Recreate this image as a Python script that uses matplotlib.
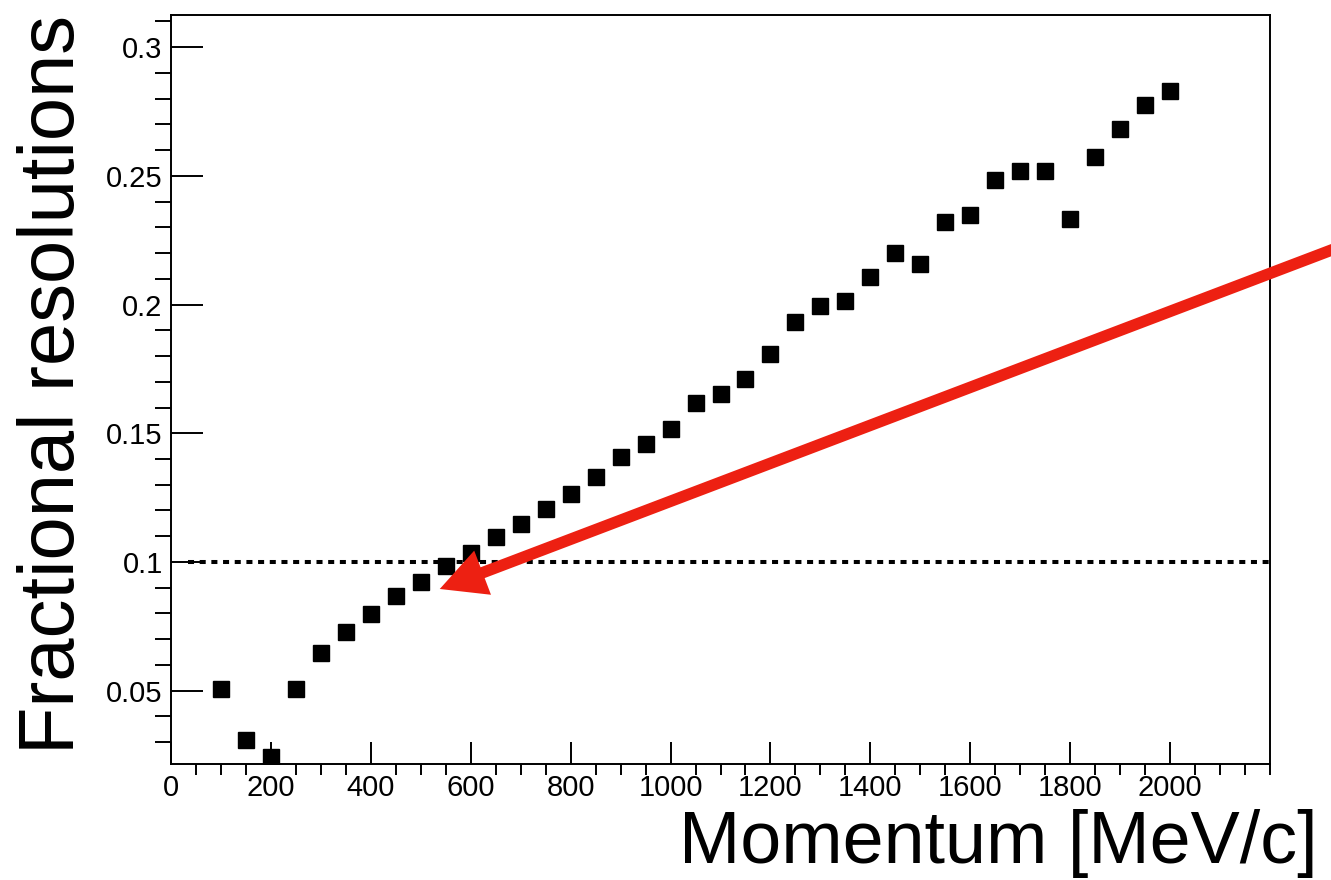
import matplotlib
matplotlib.use("Agg")
import matplotlib.pyplot as plt
from matplotlib.ticker import MultipleLocator, FuncFormatter

plt.rcParams['font.family'] = ['Liberation Sans', 'DejaVu Sans']

momentum = [100, 150, 200, 250, 300, 350, 400, 450, 500, 550,
            600, 650, 700, 750, 800, 850, 900, 950, 1000, 1050,
            1100, 1150, 1200, 1250, 1300, 1350, 1400, 1450, 1500, 1550,
            1600, 1650, 1700, 1750, 1800, 1850, 1900, 1950, 2000]
resolution = [0.0507, 0.0308, 0.0242, 0.0507, 0.0646, 0.0728, 0.0798, 0.0868, 0.0922, 0.0984,
              0.1035, 0.1097, 0.1148, 0.1206, 0.1264, 0.1330, 0.1408, 0.1460, 0.1517, 0.1618,
              0.1653, 0.1709, 0.1808, 0.1934, 0.1995, 0.2012, 0.2107, 0.2200, 0.2158, 0.2321,
              0.2348, 0.2484, 0.2519, 0.2519, 0.2333, 0.2573, 0.2682, 0.2775, 0.2830]

threshold = 0.1
threshold_start = 35
arrow_tip = (538, 0.0895)
arrow_tail = (2345, 0.2228)

red = '#ED2012'

fig = plt.figure(figsize=(13.31, 8.8), dpi=100)
ax = fig.add_axes([171 / 1331, 1 - 764 / 880, 1099 / 1331, 749 / 880])

ax.plot(momentum, resolution, linestyle='none', marker='s', markersize=11.3,
        color='black', zorder=3)

ax.hlines(threshold, threshold_start, 2200, colors='black', linewidth=2.9,
          linestyles=(0, (1.5, 1.4)), zorder=2)

ax.annotate('', xy=arrow_tip, xytext=arrow_tail, annotation_clip=False,
            arrowprops=dict(arrowstyle='simple,head_length=33,head_width=34,tail_width=8.3',
                            mutation_scale=1, color=red, lw=0,
                            shrinkA=0, shrinkB=0),
            zorder=5)

ax.set_xlim(0, 2200)
ax.set_ylim(0.0215, 0.3125)
ax.set_xticks(range(0, 2001, 200))
ax.xaxis.set_minor_locator(MultipleLocator(50))
ax.yaxis.set_major_locator(MultipleLocator(0.05))
ax.yaxis.set_minor_locator(MultipleLocator(0.01))
ax.yaxis.set_major_formatter(FuncFormatter(lambda v, p: '%g' % round(v, 3)))

ax.tick_params(direction='in', top=False, right=False, labelsize=21, width=1.4)
ax.tick_params(axis='x', which='major', length=16, pad=7)
ax.tick_params(axis='x', which='minor', length=8, width=1.4)
ax.tick_params(axis='y', which='major', length=23, pad=6)
ax.tick_params(axis='y', which='minor', length=11.5, width=1.4)
for s in ax.spines.values():
    s.set_linewidth(1.4)

fig.text(1318 / 1331, 1 - 863 / 880, 'Momentum [MeV/c]', ha='right', va='baseline',
         fontsize=53)
fig.text(54 / 1331, 1 - 385 / 880, 'Fractional resolutions', rotation=90,
         ha='center', va='center', fontsize=56)

fig.savefig('out.png', dpi=100)
